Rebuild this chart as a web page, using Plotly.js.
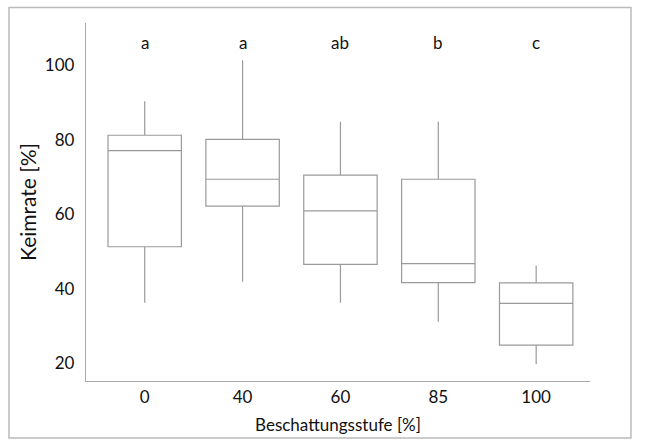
<!DOCTYPE html>
<html>
<head>
<meta charset="utf-8">
<script src="https://cdn.plot.ly/plotly-3.0.1.min.js"></script>
<style>html,body{margin:0;padding:0;background:#fff;}#chart{width:646px;height:447px;}</style>
</head>
<body>
<div id="chart"></div>
<script>
// Data
const categories = ["0", "40", "60", "85", "100"];
const lowerWhisker = [36.3, 41.9, 36.3, 31.2, 19.8];
const q1Values     = [51.3, 62.2, 46.6, 41.7, 24.9];
const medianValues = [77.1, 69.4, 60.9, 46.8, 36.1];
const q3Values     = [81.2, 80.1, 70.5, 69.4, 41.6];
const upperWhisker = [90.3, 101.3, 84.8, 84.8, 46.3];
const groupLetters = ["a", "a", "ab", "b", "c"];
const letterLevel = 106;

const FONT = "Lato, 'Open Sans', sans-serif";

const trace = {
  type: "box",
  x: categories,
  q1: q1Values,
  median: medianValues,
  q3: q3Values,
  lowerfence: lowerWhisker,
  upperfence: upperWhisker,
  boxpoints: false,
  fillcolor: "#ffffff",
  line: {color: "#9a9a9a", width: 1.2},
  whiskerwidth: 0,
  hoverinfo: "y",
  showlegend: false
};

// category axis: annotation x given as category index
const annotations = categories.map((c, i) => ({
  x: i, y: letterLevel, xref: "x", yref: "y",
  text: groupLetters[i], showarrow: false,
  font: {family: FONT, size: 17, color: "#111"}
}));

const layout = {
  width: 646, height: 447,
  margin: {l: 86, r: 56, t: 23, b: 66},
  paper_bgcolor: "#ffffff",
  plot_bgcolor: "#ffffff",
  font: {family: FONT, size: 17, color: "#111"},
  boxgap: 0.25,
  boxgroupgap: 0,
  xaxis: {
    type: "category",
    range: [-0.6, 4.55],
    showline: true, linecolor: "#aaaaaa", linewidth: 1.2,
    showgrid: false, zeroline: false, ticks: "",
    tickfont: {family: FONT, size: 17, color: "#111"},
    title: {text: "Beschattungsstufe [%]", font: {family: FONT, size: 17, color: "#111"}, standoff: 13}
  },
  yaxis: {
    range: [15.3, 111.3],
    tickvals: [20, 40, 60, 80, 100],
    showline: true, linecolor: "#aaaaaa", linewidth: 1.2,
    showgrid: false, zeroline: false, ticks: "",
    ticklabelstandoff: 7,
    tickfont: {family: FONT, size: 17, color: "#111"},
    title: {text: "Keimrate [%]", font: {family: FONT, size: 21, color: "#111"}, standoff: 2}
  },
  annotations: annotations,
  shapes: [{
    type: "rect", xref: "paper", yref: "paper",
    x0: -0.1528, x1: 1.0813, y0: -0.1592, y1: 1.0433,
    line: {color: "#bbbbbb", width: 1.5}, layer: "below"
  }]
};

Plotly.newPlot("chart", [trace], layout, {staticPlot: true, displayModeBar: false});
</script>
</body>
</html>
